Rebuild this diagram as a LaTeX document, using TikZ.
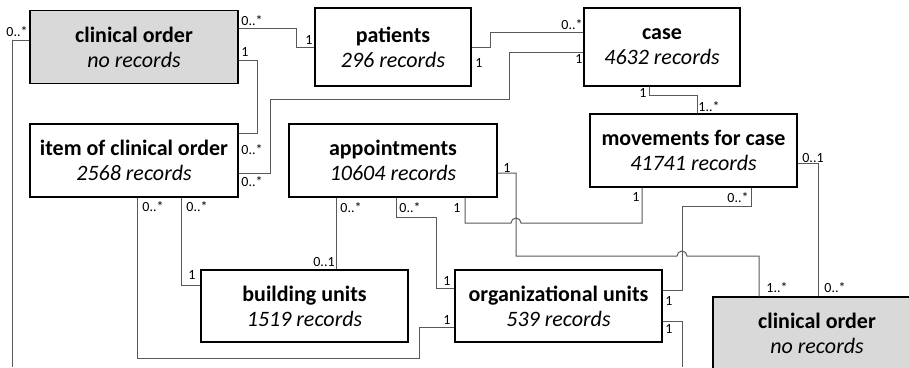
\documentclass[tikz,border=0pt]{standalone}
\usepackage{fontspec}
\setmainfont{Carlito}

\begin{document}
\begin{tikzpicture}[x=1pt,y=-1pt,
  tab/.style={draw=black,line width=1.3pt,minimum width=208pt,minimum height=73pt,
    inner sep=0pt,align=center,font=\fontsize{22}{25}\selectfont},
  leer/.style={tab,fill=black!15},
  rel/.style={draw=black!65,line width=1pt},
  mult/.style={inner sep=0pt,font=\fontsize{14}{16}\selectfont}]
  \useasboundingbox (0,0) rectangle (909,367);
  \clip (0,0) rectangle (909,367);
  % Tabellen
  \node[leer] (ordA) at (134,47) {\textbf{clinical order}\\\textit{no records}};
  \node[tab,minimum width=156pt,minimum height=78pt] (pat) at (393,47) {\textbf{patients}\\\textit{296 records}};
  \node[tab,minimum width=156pt,minimum height=78pt] (fall) at (662,47) {\textbf{case}\\\textit{4632 records}};
  \node[tab] (item) at (134,160.5) {\textbf{item of clinical order}\\\textit{2568 records}};
  \node[tab] (appt) at (393,160.5) {\textbf{appointments}\\\textit{10604 records}};
  \node[tab,minimum width=207pt] (mov) at (693.5,150.5) {\textbf{movements for case}\\\textit{41741 records}};
  \node[tab,minimum width=207pt,minimum height=72pt] (bau) at (304.5,306) {\textbf{building units}\\\textit{1519 records}};
  \node[tab,minimum width=207pt,minimum height=72pt] (org) at (558.5,306) {\textbf{organizational units}\\\textit{539 records}};
  \node[leer] (ordB) at (817,333.5) {\textbf{clinical order}\\\textit{no records}};
  % Beziehungen
  \draw[rel] (ordA.east|-0,28) -| (296,47) -- (pat.west|-0,47);
  \draw[rel] (ordA.east|-0,60) -| (257,133) -- (item.east|-0,133);
  \draw[rel] (item.east|-0,173) -| (270,99) -| (509,52) -- (fall.west|-0,52);
  \draw[rel] (pat.east|-0,47) -| (490,32) -- (fall.west|-0,32);
  \draw[rel] (fall.south-|649,0) |- (697,95) -- (mov.north-|697,0);
  \draw[rel] (item.south-|137,0) |- (419,358) |- (org.west|-0,327);
  \draw[rel] (item.south-|181,0) |- (bau.west|-0,285);
  \draw[rel] (appt.south-|336,0) -- (bau.north-|336,0);
  \draw[rel] (appt.south-|396,0) |- (436,217) |- (org.west|-0,288);
  \draw[rel] (appt.south-|465,0) |- (511,223) arc[start angle=180,end angle=0,radius=5pt] -| (mov.south-|642,0);
  \draw[rel] (appt.east|-0,173) -| (516,256) -- (677,256) arc[start angle=180,end angle=0,radius=5pt] -| (ordB.north-|759,0);
  \draw[rel] (mov.south-|751,0) |- (682,206) |- (org.east|-0,290);
  \draw[rel] (mov.east|-0,163) -| (ordB.north-|818,0);
  \draw[rel] (ordA.west|-0,40) -| (12,367);
  \draw[rel] (org.east|-0,321) -| (682,367);
  % Kardinalitaeten
  \node[mult] (mA1) at (252,21) {0..*};
  \node[mult] (mA2) at (309,40) {1};
  \node[mult] (mB1) at (245,52) {1};
  \node[mult] (mB2) at (252,150) {0..*};
  \node[mult] (mC1) at (252,182) {0..*};
  \node[mult] (mC2) at (579,59) {1};
  \node[mult] (mD1) at (479,63) {1};
  \node[mult] (mD2) at (572,25) {0..*};
  \node[mult] (mE1) at (643,93) {1};
  \node[mult] (mE2) at (709,107) {1..*};
  \node[mult] (mF1) at (153,207) {0..*};
  \node[mult] (mF2) at (447,320) {1};
  \node[mult] (mG1) at (197,207) {0..*};
  \node[mult] (mG2) at (192,275) {1};
  \node[mult] (mH1) at (351,208) {0..*};
  \node[mult] (mH2) at (324,262) {0..1};
  \node[mult] (mI1) at (410,208) {0..*};
  \node[mult] (mI2) at (447,281) {1};
  \node[mult] (mJ1) at (457,208) {1};
  \node[mult] (mJ2) at (636,197) {1};
  \node[mult] (mK1) at (507,168) {1};
  \node[mult] (mK2) at (777,288) {1..*};
  \node[mult] (mL1) at (738,198) {0..*};
  \node[mult] (mL2) at (669,301) {1};
  \node[mult] (mM1) at (813,158) {0..1};
  \node[mult] (mM2) at (835,288) {0..*};
  \node[mult] (mN1) at (17,32) {0..*};
  \node[mult] (mO1) at (669,329) {1};
\end{tikzpicture}
\end{document}
